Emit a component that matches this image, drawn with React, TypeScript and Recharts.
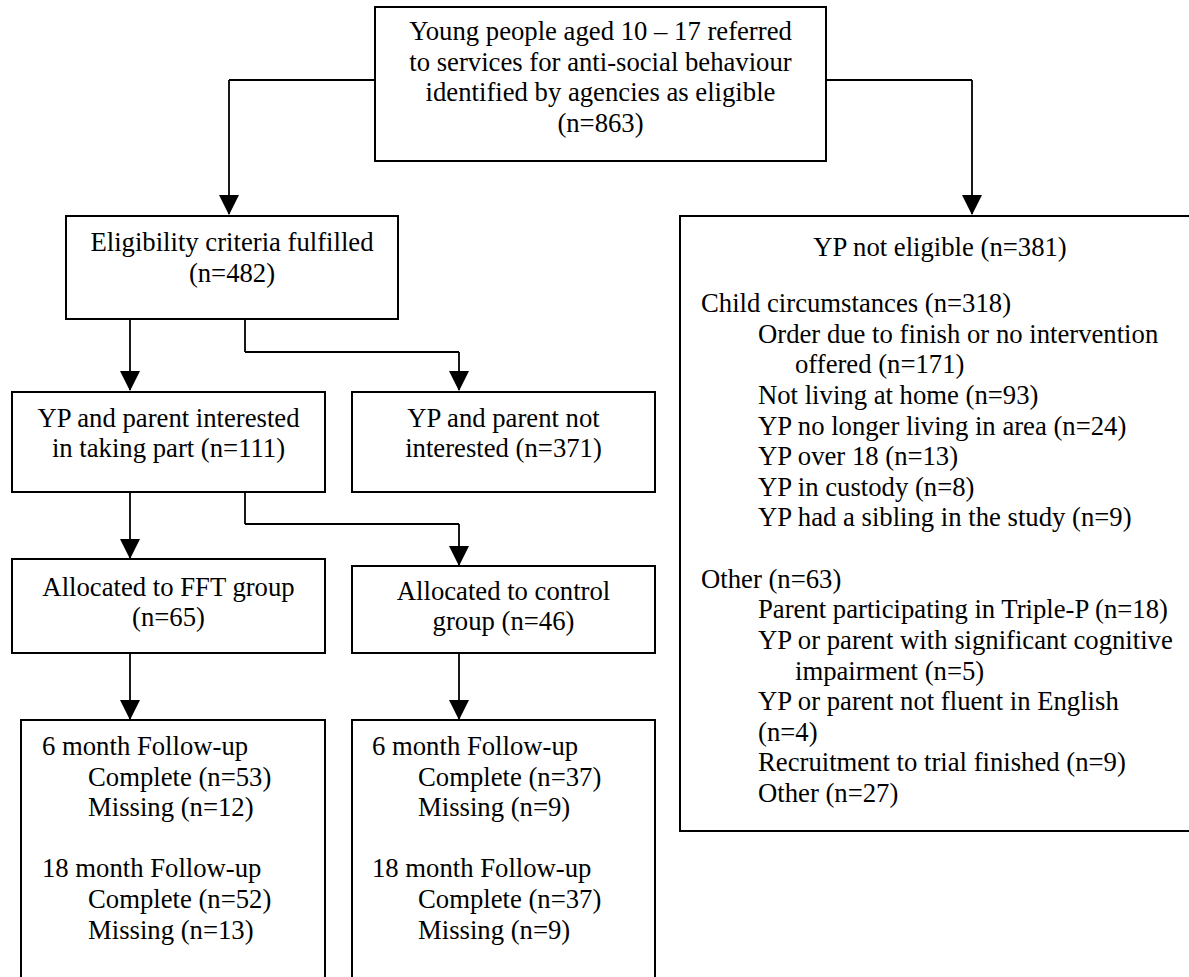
import React from "react";
import {
  ScatterChart,
  Scatter,
  XAxis,
  YAxis,
  ReferenceArea,
  ReferenceLine,
} from "recharts";

// ---- Diagram data (diagram units: x across, y down) ----
const boxes = [
  { id: "referred", x1: 375, x2: 826, y1: 7, y2: 161 },
  { id: "eligible", x1: 66, x2: 398, y1: 216, y2: 319 },
  { id: "notEligible", x1: 680, x2: 1196, y1: 216, y2: 831 },
  { id: "interested", x1: 12, x2: 325, y1: 392, y2: 492 },
  { id: "notInterested", x1: 352, x2: 655, y1: 392, y2: 492 },
  { id: "fft", x1: 12, x2: 325, y1: 559, y2: 653 },
  { id: "control", x1: 352, x2: 655, y1: 566, y2: 653 },
  { id: "fftFollow", x1: 21, x2: 325, y1: 720, y2: 995 },
  { id: "controlFollow", x1: 352, x2: 655, y1: 720, y2: 995 },
];

// connector polylines
const connectors = [
  [[375, 80], [229, 80], [229, 214]],
  [[826, 80], [972, 80], [972, 214]],
  [[130, 319], [130, 390]],
  [[245, 319], [245, 352], [459, 352], [459, 390]],
  [[130, 492], [130, 558]],
  [[245, 492], [245, 524], [459, 524], [459, 565]],
  [[130, 653], [130, 719]],
  [[459, 653], [459, 719]],
];

const arrowTips = [
  { x: 229, y: 215 },
  { x: 972, y: 215 },
  { x: 130, y: 391 },
  { x: 459, y: 391 },
  { x: 130, y: 559 },
  { x: 459, y: 566 },
  { x: 130, y: 720 },
  { x: 459, y: 720 },
];

const centeredLines = [
  { x: 600.5, y: 40, label: "Young people aged 10 – 17 referred" },
  { x: 600.5, y: 70.6, label: "to services for anti-social behaviour" },
  { x: 600.5, y: 101.2, label: "identified by agencies as eligible" },
  { x: 600.5, y: 131.8, label: "(n=863)" },
  { x: 232, y: 251, label: "Eligibility criteria fulfilled" },
  { x: 232, y: 281.5, label: "(n=482)" },
  { x: 940, y: 256, label: "YP not eligible (n=381)" },
  { x: 168.5, y: 427, label: "YP and parent interested" },
  { x: 168.5, y: 457, label: "in taking part (n=111)" },
  { x: 503.5, y: 427, label: "YP and parent not" },
  { x: 503.5, y: 457, label: "interested (n=371)" },
  { x: 168.5, y: 596, label: "Allocated to FFT group" },
  { x: 168.5, y: 626, label: "(n=65)" },
  { x: 503.5, y: 600, label: "Allocated to control" },
  { x: 503.5, y: 630, label: "group (n=46)" },
];

const leftLines = [
  { x: 701, y: 312, label: "Child circumstances (n=318)" },
  { x: 758, y: 342.6, label: "Order due to finish or no intervention" },
  { x: 795, y: 373.3, label: "offered (n=171)" },
  { x: 758, y: 403.9, label: "Not living at home (n=93)" },
  { x: 758, y: 434.5, label: "YP no longer living in area (n=24)" },
  { x: 758, y: 465.1, label: "YP over 18 (n=13)" },
  { x: 758, y: 495.8, label: "YP in custody (n=8)" },
  { x: 758, y: 526.4, label: "YP had a sibling in the study (n=9)" },
  { x: 701, y: 587.6, label: "Other (n=63)" },
  { x: 758, y: 618.3, label: "Parent participating in Triple-P (n=18)" },
  { x: 758, y: 648.9, label: "YP or parent with significant cognitive" },
  { x: 795, y: 679.5, label: "impairment (n=5)" },
  { x: 758, y: 710.1, label: "YP or parent not fluent in English" },
  { x: 758, y: 740.8, label: "(n=4)" },
  { x: 758, y: 771.4, label: "Recruitment to trial finished (n=9)" },
  { x: 758, y: 802, label: "Other (n=27)" },
  { x: 42, y: 755, label: "6 month Follow-up" },
  { x: 88, y: 785.6, label: "Complete (n=53)" },
  { x: 88, y: 816.2, label: "Missing (n=12)" },
  { x: 42, y: 877.4, label: "18 month Follow-up" },
  { x: 88, y: 908, label: "Complete (n=52)" },
  { x: 88, y: 938.6, label: "Missing (n=13)" },
  { x: 372, y: 755, label: "6 month Follow-up" },
  { x: 418, y: 785.6, label: "Complete (n=37)" },
  { x: 418, y: 816.2, label: "Missing (n=9)" },
  { x: 372, y: 877.4, label: "18 month Follow-up" },
  { x: 418, y: 908, label: "Complete (n=37)" },
  { x: 418, y: 938.6, label: "Missing (n=9)" },
];

const W = 1189;
const H = 977;
const FONT = "'Liberation Serif', 'Times New Roman', Times, serif";
const FONT_SIZE = 26.7;

const makeTextShape = (anchor: string) => (props: any) => {
  const { cx, cy, payload } = props;
  return (
    <text
      x={cx}
      y={cy}
      textAnchor={anchor}
      fontFamily={FONT}
      fontSize={FONT_SIZE}
      fill="#000"
      style={{ fontFamily: FONT, fontSize: FONT_SIZE }}
    >
      {payload.label}
    </text>
  );
};

const ArrowShape = (props: any) => {
  const { cx, cy } = props;
  return (
    <polygon
      points={`${cx - 10},${cy - 20} ${cx + 10},${cy - 20} ${cx},${cy}`}
      fill="#000"
    />
  );
};

const segments = connectors.flatMap((pts) =>
  pts.slice(1).map((p, i) => ({ from: pts[i], to: p }))
);

export default function App() {
  return (
    <div
      style={{
        position: "absolute",
        left: 0,
        top: 0,
        background: "#fff",
        fontFamily: FONT,
      }}
    >
      <ScatterChart
        width={W}
        height={H}
        margin={{ top: 0, right: 0, bottom: 0, left: 0 }}
      >
        <XAxis
          type="number"
          dataKey="x"
          domain={[0, W]}
          hide
          allowDataOverflow
        />
        <YAxis
          type="number"
          dataKey="y"
          domain={[0, H]}
          reversed
          hide
          allowDataOverflow
        />
        {boxes.map((b) => (
          <ReferenceArea
            key={b.id}
            x1={b.x1}
            x2={b.x2}
            y1={b.y1}
            y2={b.y2}
            fill="#fff"
            fillOpacity={0}
            stroke="#000"
            strokeWidth={2}
            ifOverflow="visible"
          />
        ))}
        {segments.map((s, i) => (
          <ReferenceLine
            key={`seg-${i}`}
            segment={[
              { x: s.from[0], y: s.from[1] },
              { x: s.to[0], y: s.to[1] },
            ]}
            stroke="#000"
            strokeWidth={1.8}
            ifOverflow="visible"
          />
        ))}
        <Scatter
          data={arrowTips}
          shape={ArrowShape}
          isAnimationActive={false}
        />
        <Scatter
          data={centeredLines}
          shape={makeTextShape("middle")}
          isAnimationActive={false}
        />
        <Scatter
          data={leftLines}
          shape={makeTextShape("start")}
          isAnimationActive={false}
        />
      </ScatterChart>
    </div>
  );
}
